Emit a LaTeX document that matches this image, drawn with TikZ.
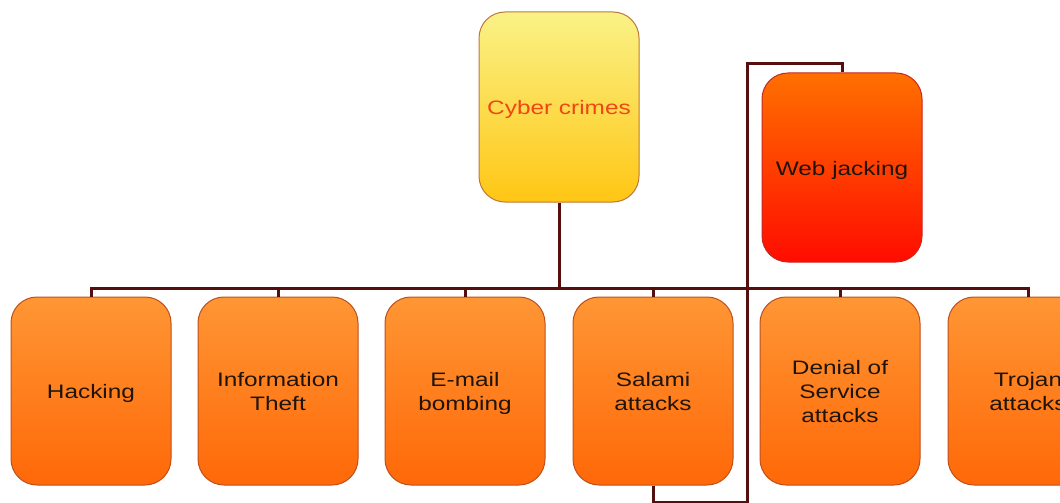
\documentclass[tikz,border=0pt]{standalone}
\usepackage{fontspec}
\setmainfont{Liberation Sans}
\usepackage{graphicx}
\definecolor{linkcol}{RGB}{85,15,15}
\definecolor{rootTop}{RGB}{250,242,135}
\definecolor{rootBot}{RGB}{255,198,20}
\definecolor{rootEdge}{RGB}{190,120,60}
\definecolor{rootText}{RGB}{240,70,20}
\definecolor{orTop}{RGB}{255,150,52}
\definecolor{orBot}{RGB}{255,104,8}
\definecolor{orEdge}{RGB}{190,80,30}
\definecolor{webTop}{RGB}{255,112,0}
\definecolor{webBot}{RGB}{255,12,0}
\definecolor{webEdge}{RGB}{200,40,30}
\definecolor{inkText}{RGB}{30,20,10}
% horizontally widened label text; the tall strut sets the text a little lower
\newcommand{\widelabel}[1]{\scalebox{1.25}[1]{\begin{tabular}{@{}c@{}}\rule{0pt}{23pt}#1\end{tabular}}}
\begin{document}
\begin{tikzpicture}[x=1pt,y=-1pt,
  box/.style={rectangle, rounded corners=26pt, minimum width=160pt, minimum height=188pt,
    inner sep=0pt, line width=1pt, font=\fontsize{19.5}{24}\selectfont},
  crimebox/.style={box, draw=orEdge, top color=orTop, bottom color=orBot, text=inkText},
  rootbox/.style={box, minimum height=190pt, draw=rootEdge, top color=rootTop, bottom color=rootBot, text=rootText},
  webbox/.style={box, minimum height=189pt, draw=webEdge, top color=webTop, bottom color=webBot, text=inkText},
  link/.style={draw=linkcol, line width=3pt}]
\useasboundingbox (0,0) rectangle (1060,503);
\clip (0,0) rectangle (1060,503);
\fill[white] (0,0) rectangle (1060,503);

% connector bends
\coordinate (hub) at (559,288);
\coordinate (loopLow) at (747,502);
\coordinate (loopHigh) at (747,64);

\node[rootbox] (root) at (559,107) {\widelabel{Cyber crimes}};
\node[webbox] (web) at (842,167.5) {\widelabel{Web jacking}};

\node[crimebox] (hack) at (91,391) {\widelabel{Hacking}};
\node[crimebox] (info) at (278,391) {\widelabel{Information\\Theft}};
\node[crimebox] (mail) at (465,391) {\widelabel{E-mail\\bombing}};
\node[crimebox] (salami) at (653,391) {\widelabel{Salami\\attacks}};
\node[crimebox] (dos) at (840,391) {\widelabel{Denial of\\Service\\attacks}};
\node[crimebox] (trojan) at (1028,391) {\widelabel{Trojan\\attacks}};

\draw[link] (root.south) -- (hub);
\foreach \n in {hack,info,mail,salami,dos,trojan}
  \draw[link] (hub) -| (\n.north);
\draw[link] (salami.south) |- (loopLow) -- (loopHigh) -| (web.north);
\end{tikzpicture}
\end{document}
